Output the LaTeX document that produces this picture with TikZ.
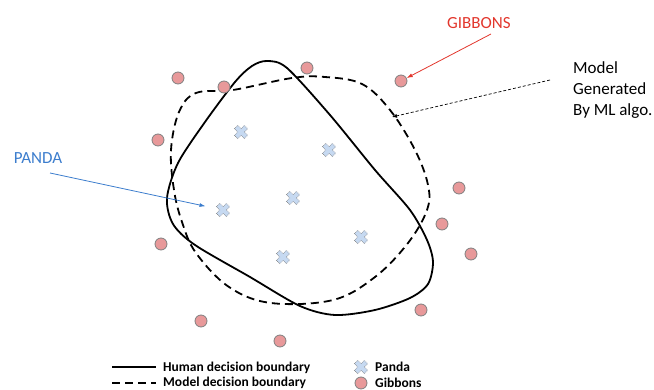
\documentclass[tikz,border=0pt]{standalone}
\usepackage{fontspec}
\setmainfont{Carlito}
\usetikzlibrary{arrows.meta}
\definecolor{gibbonfill}{RGB}{232,153,154}
\definecolor{pandafill}{RGB}{198,217,241}
\definecolor{gibbonred}{RGB}{226,54,44}
\definecolor{pandablue}{RGB}{60,125,205}
\tikzset{
  gibbon/.style={circle, draw=gray, fill=gibbonfill, line width=0.8pt, minimum size=12pt, inner sep=0pt},
  panda/.style={minimum size=17pt, inner sep=0pt, path picture={
    \filldraw[fill=pandafill, draw=gray, line width=0.6pt, densely dotted,
      shift={(path picture bounding box.center)}]
      (-3.3,-6.6) -- (0,-3.3) -- (3.3,-6.6) -- (6.6,-3.3) -- (3.3,0) -- (6.6,3.3)
      -- (3.3,6.6) -- (0,3.3) -- (-3.3,6.6) -- (-6.6,3.3) -- (-3.3,0) -- (-6.6,-3.3) -- cycle;}},
  human/.style={line width=1.8pt},
  model/.style={line width=1.8pt, dash pattern=on 8pt off 5pt},
  legend/.style={font=\bfseries\fontsize{13.5}{15}\selectfont, anchor=west, inner sep=0pt}
}

\begin{document}
\begin{tikzpicture}[x=1pt, y=-1pt]
  \useasboundingbox (0,0) rectangle (654,390);

  % decision boundaries
  \draw[human] plot[smooth cycle, tension=0.5] coordinates {
    (267,61) (287,68) (330,115) (375,170) (410,210) (427,240) (433,262)
    (428,284) (410,298) (375,310) (335,315) (300,306) (250,277) (195,245) (173,224)
    (167,198) (178,163) (205,122) (235,82) (252,66)};
  \draw[model] plot[smooth cycle, tension=0.6] coordinates {
    (325,77) (292,78) (233,90) (196,93) (179,112) (171,150) (174,190) (182,222)
    (196,253) (229,287) (271,303) (333,300) (375,277) (408,243) (427,210)
    (428,185) (415,150) (390,110) (362,84)};

  % gibbons
  \foreach \n/\x/\y in {1/178/78, 2/224/87, 3/307/68, 4/401/81, 5/158/140, 6/459/188,
                        7/442/224, 8/471/254, 9/161/244, 10/421/310, 11/201/321, 12/280/341}
    \node[gibbon] (g\n) at (\x,\y) {};

  % pandas
  \foreach \n/\x/\y in {1/241/132, 2/329/150, 3/293/198, 4/223/210, 5/361/237, 6/283/257}
    \node[panda] (p\n) at (\x,\y) {};

  % labels
  \node[text=gibbonred, font=\fontsize{17}{20}\selectfont] (gibbonstxt) at (479,23) {GIBBONS};
  \node[text=pandablue, font=\fontsize{17}{20}\selectfont] (pandatxt) at (38,158) {PANDA};
  \node[anchor=north west, align=left, inner sep=0pt, font=\fontsize{17}{21}\selectfont]
    (modeltxt) at (573,61) {Model\\Generated\\By ML algo.};

  \coordinate (gibbonsfrom) at (491,34);
  \coordinate (pandafrom) at (50,173);
  \coordinate (modelfrom) at (550,80);
  \coordinate (modelto) at (392,117);
  \draw[gibbonred, line width=0.8pt, -{Latex[length=6pt, width=4pt]}] (gibbonsfrom) -- (g4);
  \draw[pandablue, line width=0.8pt, -{Latex[length=6pt, width=4pt]}, shorten >=9pt] (pandafrom) -- (p4);
  \draw[line width=0.7pt, dash pattern=on 3pt off 2pt, -{Latex[length=5pt, width=4pt]}] (modelfrom) -- (modelto);

  % legend
  \draw[human] (112,367) -- (156,367);
  \draw[model] (112,383) -- (156,383);
  \node[legend] (humanleg) at (163,368) {Human decision boundary};
  \node[legend] (modelleg) at (163,383) {Model decision boundary};
  \node[panda] (pandamark) at (361,367) {};
  \node[gibbon] (gibbonmark) at (361,383) {};
  \node[legend] (pandaleg) at (375,367) {Panda};
  \node[legend] (gibbonleg) at (375,383) {Gibbons};
\end{tikzpicture}
\end{document}
